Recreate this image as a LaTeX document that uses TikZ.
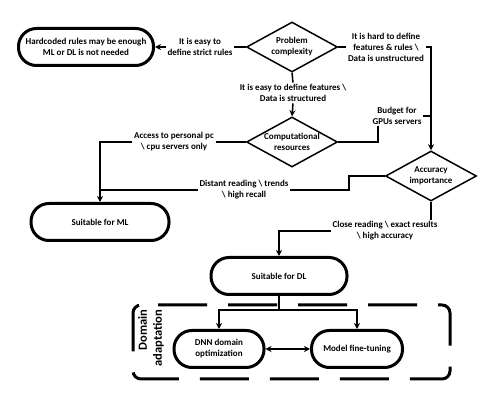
\documentclass[tikz,border=0pt]{standalone}
\usepackage{fontspec}
\setmainfont{Carlito}
\usetikzlibrary{shapes.geometric,arrows.meta}
\begin{document}
\begin{tikzpicture}[x=1pt,y=-1pt,
  font=\fontsize{9}{11}\selectfont\bfseries,
  pill/.style={rectangle, rounded corners=18pt, draw, line width=3pt, minimum height=37pt, inner sep=2pt, align=center},
  dia/.style={diamond, draw, line width=1.5pt, minimum width=91pt, minimum height=50pt, inner sep=0pt, aspect=1.8, align=center},
  lbl/.style={align=center, inner sep=1.5pt},
  conn/.style={line width=1.5pt},
  arr/.style={conn, -{Stealth[length=6pt,width=6pt]}},
  darr/.style={conn, {Stealth[length=6pt,width=6pt]}-{Stealth[length=6pt,width=6pt]}},
  dabox/.style={line width=3pt, dash pattern=on 49pt off 21pt, rounded corners=8pt},
]
\useasboundingbox (0,0) rectangle (499,411);

% nodes
\node[pill, minimum width=135pt] (hard) at (86,47) {Hardcoded rules may be enough\\ML or DL is not needed};
\node[dia] (pc) at (292,47) {Problem\\complexity};
\node[dia] (comp) at (292,142) {Computational\\resources};
\node[dia] (acc) at (431,176) {Accuracy\\importance};
\node[pill, minimum width=138pt] (ml) at (100,222) {Suitable for ML};
\node[pill, minimum width=136pt] (dl) at (279,276) {Suitable for DL};
\node[pill, minimum width=90pt] (dnn) at (219,349) {DNN domain\\optimization};
\node[pill, minimum width=91pt] (mft) at (357,349) {Model fine-tuning};

% labels
\node[lbl] (l1) at (200,47) {It is easy to\\define strict rules};
\node[lbl] (l2) at (386,47) {It is hard to define\\features \& rules \textbackslash\\Data is unstructured};
\node[lbl] (l3) at (293,93) {It is easy to define features \textbackslash\\Data is structured};
\node[lbl] (l4) at (397,116) {Budget for\\GPUs servers};
\node[lbl] (l5) at (174,142) {Access to personal pc\\\textbackslash{} cpu servers only};
\node[lbl] (l6) at (244,190) {Distant reading \textbackslash{} trends\\\textbackslash{} high recall};
\node[lbl] (l7) at (385,231) {Close reading \textbackslash{} exact results\\\textbackslash{} high accuracy};

% connectors
\draw[conn] (pc.west) -- (l1.east);
\draw[arr] (l1.west) -- (hard.east);
\draw[conn] (pc.east) -- (l2.west);
\draw[arr] (l2.east) -| (acc.north);
\draw[conn] (pc.south) -- (l3.north);
\draw[arr] (l3.south) -- (comp.north);
\coordinate (b1) at (378,142);
\draw[conn] (comp.east) -- (b1) -- (b1 |- l4.south);
\draw[conn] (l4.east) -- (l4.east -| acc.north);
\draw[conn] (comp.west) -- (l5.east);
\draw[arr] (l5.west) -| (ml.north);
\draw[conn] (acc.west) -- ++(-36,0) |- (l6.east);
\draw[conn] (l6.west) -- (l6.west -| ml.north);
\draw[conn] (acc.south) -- (acc.south |- l7.north);
\draw[arr] (l7.west) -| (dl.north);
\draw[conn] (dl.south) -- ++(0,14) coordinate (sp);
\draw[arr] (sp) -| (dnn.north);
\draw[arr] (sp) -| (mft.north);
\draw[darr] (dnn.east) -- (mft.west);

% domain adaptation box
\draw[dabox] (150,305) -- (450,305) -- (450,379) -- (133,379) -- (133,305) -- cycle;
\node[rotate=90, align=right, inner sep=0pt, font=\fontsize{12.5}{15}\selectfont\bfseries] (da) at (151,338) {Domain\\adaptation};
\end{tikzpicture}
\end{document}
